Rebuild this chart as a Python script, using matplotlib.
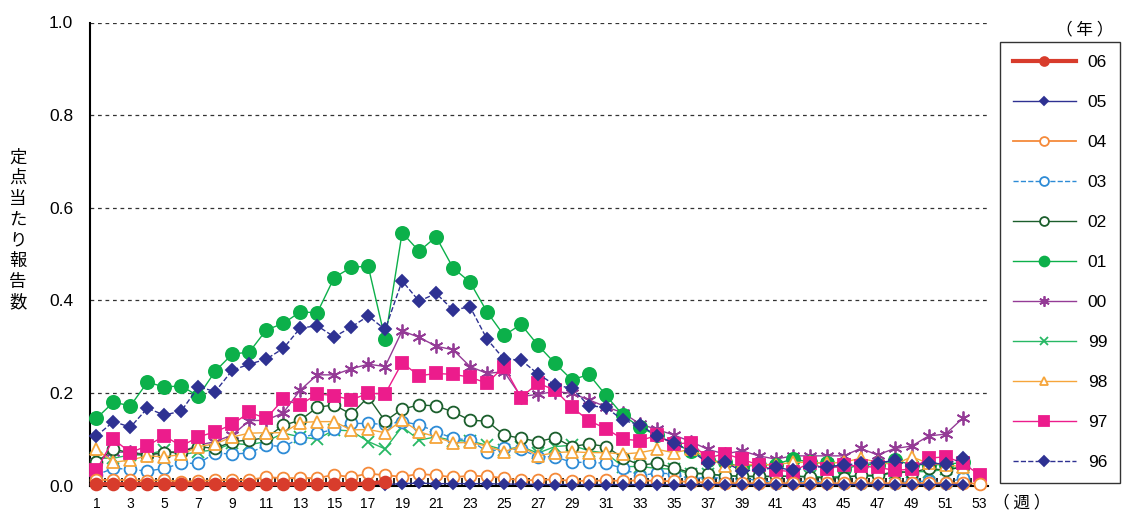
import numpy as np
import matplotlib
matplotlib.use("Agg")
from matplotlib import pyplot as plt

plt.rcParams['font.family'] = ['Liberation Sans', 'Noto Sans CJK JP', 'DejaVu Sans']

# weekly reports per sentinel, by year (weeks 1..)
y06 = [0.003, 0.003, 0.003, 0.003, 0.003, 0.003, 0.003, 0.003, 0.003, 0.003,
       0.003, 0.003, 0.003, 0.003, 0.003, 0.003, 0.004, 0.008]
y05 = [0.003] * 17 + [0.002, 0.004, 0.005, 0.004, 0.004, 0.004, 0.004, 0.003, 0.003,
       0.002, 0.002, 0.002, 0.002, 0.002, 0.002, 0.002, 0.002, 0.002, 0.002,
       0.002, 0.002, 0.002, 0.002, 0.002, 0.002, 0.002, 0.002, 0.002, 0.002,
       0.002, 0.002, 0.002, 0.002, 0.002, 0.002]
y04 = [0.012, 0.012, 0.012, 0.010, 0.012, 0.008, 0.010, 0.011, 0.012, 0.012,
       0.018, 0.016, 0.016, 0.016, 0.023, 0.018, 0.026, 0.022, 0.019, 0.025,
       0.022, 0.018, 0.021, 0.020, 0.016, 0.011, 0.012, 0.013, 0.010, 0.010,
       0.011, 0.010, 0.011, 0.010, 0.009, 0.008, 0.006, 0.005, 0.005, 0.005,
       0.005, 0.005, 0.005, 0.005, 0.005, 0.005, 0.005, 0.005, 0.005, 0.005,
       0.005, 0.005, 0.004]
y03 = [0.023, 0.037, 0.035, 0.031, 0.037, 0.048, 0.048, 0.070, 0.068, 0.070,
       0.087, 0.084, 0.102, 0.113, 0.121, 0.134, 0.134, 0.132, 0.138, 0.131,
       0.116, 0.102, 0.098, 0.073, 0.080, 0.078, 0.062, 0.062, 0.050, 0.050,
       0.048, 0.037, 0.021, 0.027, 0.025, 0.014, 0.018, 0.015, 0.014, 0.012,
       0.005, 0.007, 0.009, 0.008, 0.005, 0.006, 0.005, 0.005, 0.009, 0.009,
       0.005, 0.016]
y02 = [0.050, 0.079, 0.070, 0.066, 0.071, 0.073, 0.084, 0.080, 0.095, 0.098,
       0.103, 0.130, 0.141, 0.169, 0.174, 0.154, 0.191, 0.139, 0.165, 0.174,
       0.172, 0.159, 0.141, 0.139, 0.109, 0.102, 0.095, 0.103, 0.084, 0.090,
       0.084, 0.060, 0.044, 0.048, 0.038, 0.028, 0.025, 0.021, 0.020, 0.020,
       0.020, 0.020, 0.018, 0.016, 0.017, 0.022, 0.022, 0.030, 0.028, 0.037,
       0.033, 0.040]
y01 = [0.145, 0.180, 0.172, 0.223, 0.213, 0.215, 0.193, 0.247, 0.284, 0.288,
       0.336, 0.350, 0.375, 0.373, 0.449, 0.471, 0.474, 0.316, 0.546, 0.506,
       0.537, 0.470, 0.439, 0.375, 0.324, 0.348, 0.303, 0.264, 0.228, 0.240,
       0.195, 0.152, 0.126, 0.108, 0.090, 0.075, 0.055, 0.050, 0.040, 0.045,
       0.045, 0.058, 0.050, 0.048, 0.035, 0.045, 0.045, 0.055, 0.045, 0.045,
       0.045, 0.050]
y00 = [0.051, 0.072, 0.072, 0.067, 0.070, 0.073, 0.087, 0.095, 0.109, 0.140,
       0.141, 0.157, 0.206, 0.239, 0.239, 0.252, 0.262, 0.257, 0.334, 0.320,
       0.301, 0.293, 0.257, 0.242, 0.246, 0.192, 0.197, 0.203, 0.199, 0.185,
       0.170, 0.157, 0.133, 0.121, 0.109, 0.095, 0.078, 0.068, 0.075, 0.064,
       0.057, 0.064, 0.064, 0.064, 0.064, 0.080, 0.066, 0.080, 0.085, 0.107,
       0.111, 0.145]
y99 = [0.059, 0.059, 0.066, 0.066, 0.077, 0.066, 0.073, 0.077, 0.091, 0.088,
       0.095, 0.113, 0.105, 0.100, 0.120, 0.118, 0.095, 0.079, 0.127, 0.098,
       0.105, 0.097, 0.096, 0.087, 0.077, 0.084, 0.070, 0.084, 0.087, 0.075,
       0.070, 0.041, 0.041, 0.037, 0.035, 0.025, 0.025, 0.021, 0.020, 0.018,
       0.020, 0.020, 0.020, 0.018, 0.020, 0.020, 0.020, 0.028, 0.030, 0.030,
       0.035, 0.040]
y98 = [0.078, 0.050, 0.055, 0.064, 0.062, 0.067, 0.084, 0.090, 0.105, 0.113,
       0.114, 0.114, 0.136, 0.138, 0.138, 0.120, 0.121, 0.114, 0.141, 0.116,
       0.105, 0.092, 0.093, 0.085, 0.073, 0.085, 0.064, 0.071, 0.073, 0.071,
       0.071, 0.068, 0.071, 0.078, 0.071, 0.078, 0.060, 0.042, 0.045, 0.045,
       0.045, 0.050, 0.050, 0.048, 0.050, 0.059, 0.050, 0.045, 0.062, 0.048,
       0.045, 0.040]
y97 = [0.033, 0.100, 0.071, 0.086, 0.107, 0.085, 0.105, 0.116, 0.132, 0.158,
       0.145, 0.186, 0.174, 0.198, 0.194, 0.185, 0.199, 0.198, 0.265, 0.237,
       0.242, 0.240, 0.234, 0.221, 0.257, 0.190, 0.221, 0.206, 0.169, 0.140,
       0.123, 0.100, 0.097, 0.108, 0.090, 0.092, 0.059, 0.069, 0.057, 0.044,
       0.033, 0.030, 0.049, 0.035, 0.044, 0.042, 0.039, 0.033, 0.035, 0.059,
       0.062, 0.049, 0.023]
y96 = [0.107, 0.138, 0.126, 0.167, 0.152, 0.161, 0.213, 0.203, 0.249, 0.262,
       0.273, 0.296, 0.340, 0.345, 0.321, 0.342, 0.366, 0.337, 0.442, 0.398,
       0.415, 0.379, 0.386, 0.316, 0.273, 0.271, 0.241, 0.217, 0.210, 0.172,
       0.169, 0.141, 0.131, 0.107, 0.092, 0.075, 0.049, 0.050, 0.032, 0.033,
       0.039, 0.033, 0.039, 0.041, 0.044, 0.048, 0.049, 0.054, 0.042, 0.049,
       0.046, 0.059]

years = ['06', '05', '04', '03', '02', '01', '00', '99', '98', '97', '96']
series = [y06, y05, y04, y03, y02, y01, y00, y99, y98, y97, y96]

# colour, linestyle, linewidth, marker, size, filled, zorder
styles = {
    '06': ('#d83c2c', '-', 3.0, 'o', 8.5, True, 20),
    '05': ('#2e3192', '-', 1.0, 'D', 5, True, 18),
    '04': ('#f58a3a', '-', 1.3, 'o', 8.5, False, 17),
    '03': ('#2d8bd6', '--', 1.0, 'o', 8.5, False, 13),
    '02': ('#1b5e2c', '-', 1.0, 'o', 8.5, False, 14),
    '01': ('#0cb04a', '-', 1.0, 'o', 9.5, True, 12),
    '00': ('#943b96', '-', 1.0, (6, 2, 0), 10, True, 11),
    '99': ('#27b864', '-', 1.0, 'x', 8, True, 10),
    '98': ('#f6a53a', '-', 1.0, '^', 8, False, 15),
    '97': ('#ec1c8c', '-', 1.0, 's', 9, True, 16),
    '96': ('#2e3192', '--', 1.0, 'D', 6.5, True, 19),
}

fig = plt.figure(figsize=(11.25, 5.13), dpi=100)
ax = fig.add_axes([90 / 1125, 27.5 / 513, 898 / 1125, 463 / 513])

for yr, vals in zip(years, series):
    c, ls, lw, mk, ms, filled, z = styles[yr]
    wk = np.arange(1, len(vals) + 1)
    ax.plot(wk, vals, color=c, linestyle=ls, linewidth=lw, marker=mk,
            markersize=ms, markerfacecolor=c if filled else 'white',
            markeredgecolor=c, markeredgewidth=1.3, label=yr, zorder=z,
            clip_on=False)

ax.set_xlim(0.62, 53.5)
ax.set_ylim(0, 1.0)
ax.set_yticks(np.arange(0, 1.01, 0.2))
ax.set_yticklabels(['%.1f' % v for v in np.arange(0, 1.01, 0.2)], fontsize=12.5)
ax.tick_params(axis='y', length=0, pad=12)
ax.yaxis.grid(True, linestyle=(0, (3, 3)), color='#333333', linewidth=0.9)
ax.set_axisbelow(True)

ax.set_xticks(np.arange(1, 54, 2))
ax.set_xticklabels([str(w) for w in range(1, 54, 2)], fontsize=10)
ax.set_xticks(np.arange(1.5, 53, 1), minor=True)
ax.tick_params(axis='x', which='major', length=0, pad=8)
ax.tick_params(axis='x', which='minor', direction='in', length=6, width=1.2, color='black')

for s in ['top', 'right']:
    ax.spines[s].set_visible(False)
ax.spines['left'].set_linewidth(1.5)
ax.spines['bottom'].set_linewidth(1.5)

fig.text(18 / 1125, 1 - 230 / 513, '\n'.join('定点当たり報告数'), ha='center', va='center',
         fontsize=12.5, linespacing=1.2, family=['Noto Sans CJK JP'])
fig.text(1022 / 1125, 1 - 503 / 513, '（ 週 ）', ha='center', va='center', fontsize=12,
         family=['Noto Sans CJK JP'])
fig.text(1085 / 1125, 1 - 30 / 513, '（ 年 ）', ha='center', va='center', fontsize=12,
         family=['Noto Sans CJK JP'])

leg = fig.legend(loc='upper left', bbox_to_anchor=(1000 / 1125, 1 - 42 / 513),
                 fontsize=12.5, frameon=True, fancybox=False, edgecolor='black',
                 handlelength=3.6, labelspacing=1.43, borderpad=0.75,
                 handletextpad=0.7, borderaxespad=0, markerscale=0.75)
leg.get_frame().set_linewidth(1.0)

fig.savefig('out.png', dpi=100)
